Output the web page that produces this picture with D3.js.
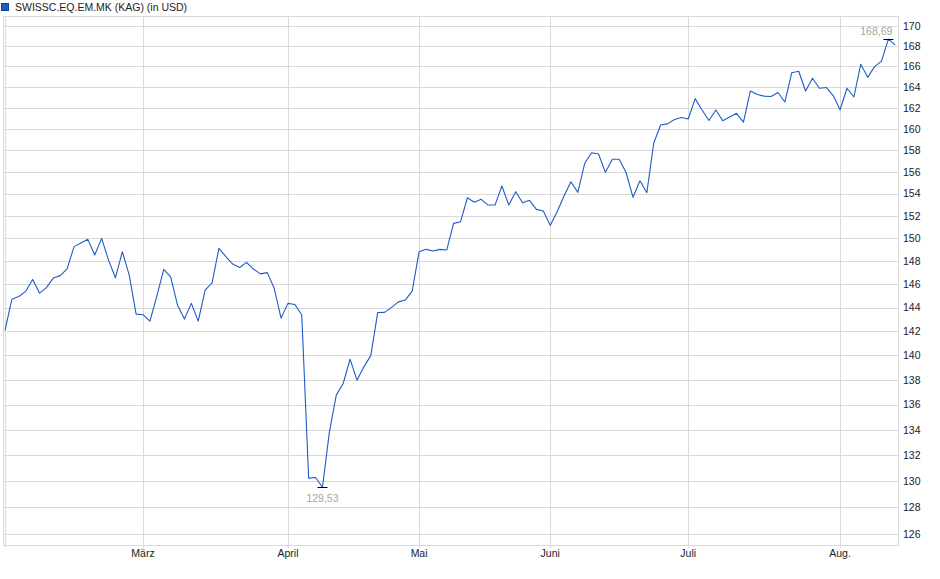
<!DOCTYPE html>
<html>
<head>
<meta charset="utf-8">
<script src="https://cdn.jsdelivr.net/npm/d3@7/dist/d3.min.js"></script>
<style>
    body { margin: 0; background: #ffffff; }
    svg text { font-family: "Liberation Sans", Arial, sans-serif; }
</style>
</head>
<body>
<svg id="chart" width="940" height="579"></svg>
<script>
// series name shown in the legend
var seriesName = "SWISSC.EQ.EM.MK (KAG) (in USD)";

// daily values, Feb to mid Aug
var values = [
    142.08, 144.72, 144.94, 145.38, 146.41, 145.24, 145.71, 146.53, 146.74, 147.32,
    149.27, 149.58, 149.91, 148.53, 150.00, 148.09, 146.55, 148.82, 146.79, 143.45,
    143.40, 142.86, 144.98, 147.28, 146.64, 144.21, 143.03, 144.36, 142.86, 145.49,
    146.12, 149.12, 148.40, 147.74, 147.45, 147.89, 147.31, 146.89, 147.00, 145.67,
    143.11, 144.36, 144.27, 143.37, 130.23, 130.28, 129.53, 133.81, 136.76, 137.70,
    139.69, 137.97, 139.06, 139.98, 143.58, 143.60, 144.02, 144.49, 144.64, 145.41,
    148.82, 149.03, 148.88, 149.03, 148.97, 151.33, 151.47, 153.63, 153.22, 153.49,
    152.97, 152.97, 154.70, 152.97, 154.18, 153.18, 153.40, 152.58, 152.43, 151.15,
    152.37, 153.79, 155.09, 154.12, 156.78, 157.76, 157.64, 155.95, 157.15, 157.15,
    155.91, 153.67, 155.18, 154.09, 158.67, 160.36, 160.47, 160.88, 161.07, 160.93,
    162.87, 161.79, 160.79, 161.79, 160.77, 161.12, 161.47, 160.64, 163.61, 163.27,
    163.11, 163.08, 163.46, 162.55, 165.38, 165.52, 163.61, 164.84, 163.87, 163.95,
    163.17, 161.81, 163.87, 163.03, 166.21, 164.93, 165.97, 166.51, 168.69, 168.11
];

// month labels and the index of the first value of each month
var monthLabels = ["", "März", "April", "Mai", "Juni", "Juli", "Aug."];
var monthStarts = [0, 20, 41, 60, 79, 99, 121];

// y tick labels (right axis)
var yTicks = d3.range(126, 171, 2);
var yDomain = [125.2, 171.0];

var lineColor = "#1f5bc6";
var gridColor = "#dadada";

var svg = d3.select("#chart");
var plot = { left: 3, right: 898, top: 16, bottom: 545, first: 5, last: 895.3 };

var x = d3.scaleLinear()
    .domain([0, values.length - 1])
    .range([plot.first, plot.last]);

var y = d3.scaleLog()
    .domain(yDomain)
    .range([plot.bottom, plot.top]);

// crisp 1px lines
function px(v) { return Math.round(v) + 0.5; }

var deLocale = d3.formatLocale({ decimal: ",", thousands: ".", grouping: [3], currency: ["", " €"] });
var fmt = deLocale.format(".2f");

/*
 * renders the legend square and series name
 * at the top of the page
 * @param {svg} svg
 */
function renderLegend(svg) {
    var legend = svg.append("g");

    legend.append("rect")
        .attr("x", 1.5)
        .attr("y", 3.5)
        .attr("width", 7)
        .attr("height", 7)
        .attr("fill", lineColor)
        .attr("stroke", "#173f8f")
        .attr("stroke-width", 1);

    legend.append("text")
        .attr("x", 15)
        .attr("y", 11)
        .attr("font-size", "10.5px")
        .attr("fill", "#222222")
        .text(seriesName);

    return svg;
}

/*
 * renders grid lines, frame and axis labels
 * @param {svg} svg
 */
function renderGrid(svg) {
    var grid = svg.append("g").attr("class", "grid");

    // horizontal lines + labels on the right
    grid.selectAll("line.h")
        .data(yTicks)
        .enter().append("line")
        .attr("class", "h")
        .attr("x1", plot.left)
        .attr("x2", plot.right)
        .attr("y1", function(d) { return px(y(d)); })
        .attr("y2", function(d) { return px(y(d)); })
        .attr("stroke", gridColor);

    grid.selectAll("text.ylab")
        .data(yTicks)
        .enter().append("text")
        .attr("class", "ylab")
        .attr("x", plot.right + 5)
        .attr("y", function(d) { return y(d); })
        .attr("dy", "0.36em")
        .attr("font-size", "10.5px")
        .attr("fill", "#222222")
        .text(function(d) { return d; });

    // vertical month lines, ticks and labels
    grid.selectAll("line.v")
        .data(monthStarts)
        .enter().append("line")
        .attr("class", "v")
        .attr("x1", function(d) { return px(x(d)); })
        .attr("x2", function(d) { return px(x(d)); })
        .attr("y1", plot.top)
        .attr("y2", plot.bottom + 3)
        .attr("stroke", gridColor);

    grid.selectAll("text.xlab")
        .data(monthStarts)
        .enter().append("text")
        .attr("class", "xlab")
        .attr("x", function(d) { return x(d); })
        .attr("y", plot.bottom + 12)
        .attr("text-anchor", "middle")
        .attr("font-size", "10.5px")
        .attr("fill", "#222222")
        .text(function(d, i) { return monthLabels[i]; });

    // frame
    grid.append("rect")
        .attr("x", plot.left + 0.5)
        .attr("y", plot.top + 0.5)
        .attr("width", plot.right - plot.left)
        .attr("height", plot.bottom - plot.top)
        .attr("fill", "none")
        .attr("stroke", gridColor);

    return svg;
}

/*
 * renders the price line and min / max markers
 * @param {svg} svg
 */
function renderLine(svg) {
    var line = d3.line()
        .x(function(d, i) { return x(i); })
        .y(function(d) { return y(d); });

    svg.append("path")
        .datum(values)
        .attr("d", line)
        .attr("fill", "none")
        .attr("stroke", lineColor)
        .attr("stroke-width", 1.1)
        .attr("stroke-linejoin", "round");

    var maxI = d3.maxIndex(values), minI = d3.minIndex(values);
    var marks = [
        { i: maxI, v: values[maxI], type: "max" },
        { i: minI, v: values[minI], type: "min" }
    ];

    svg.selectAll("line.mark")
        .data(marks)
        .enter().append("line")
        .attr("class", "mark")
        .attr("x1", function(d) { return x(d.i) - 5; })
        .attr("x2", function(d) { return x(d.i) + 5; })
        .attr("y1", function(d) { return px(y(d.v)); })
        .attr("y2", function(d) { return px(y(d.v)); })
        .attr("stroke", "#000000");

    svg.selectAll("text.mark")
        .data(marks)
        .enter().append("text")
        .attr("class", "mark")
        .attr("x", function(d) { return d.type === "max" ? x(d.i) + 4 : x(d.i); })
        .attr("y", function(d) { return d.type === "max" ? y(d.v) - 4 : y(d.v) + 15; })
        .attr("text-anchor", function(d) { return d.type === "max" ? "end" : "middle"; })
        .attr("font-size", "10.5px")
        .attr("fill", "#a8a49c")
        .text(function(d) { return fmt(d.v); });

    return svg;
}

renderLegend(svg);
renderGrid(svg);
renderLine(svg);
</script>
</body>
</html>
